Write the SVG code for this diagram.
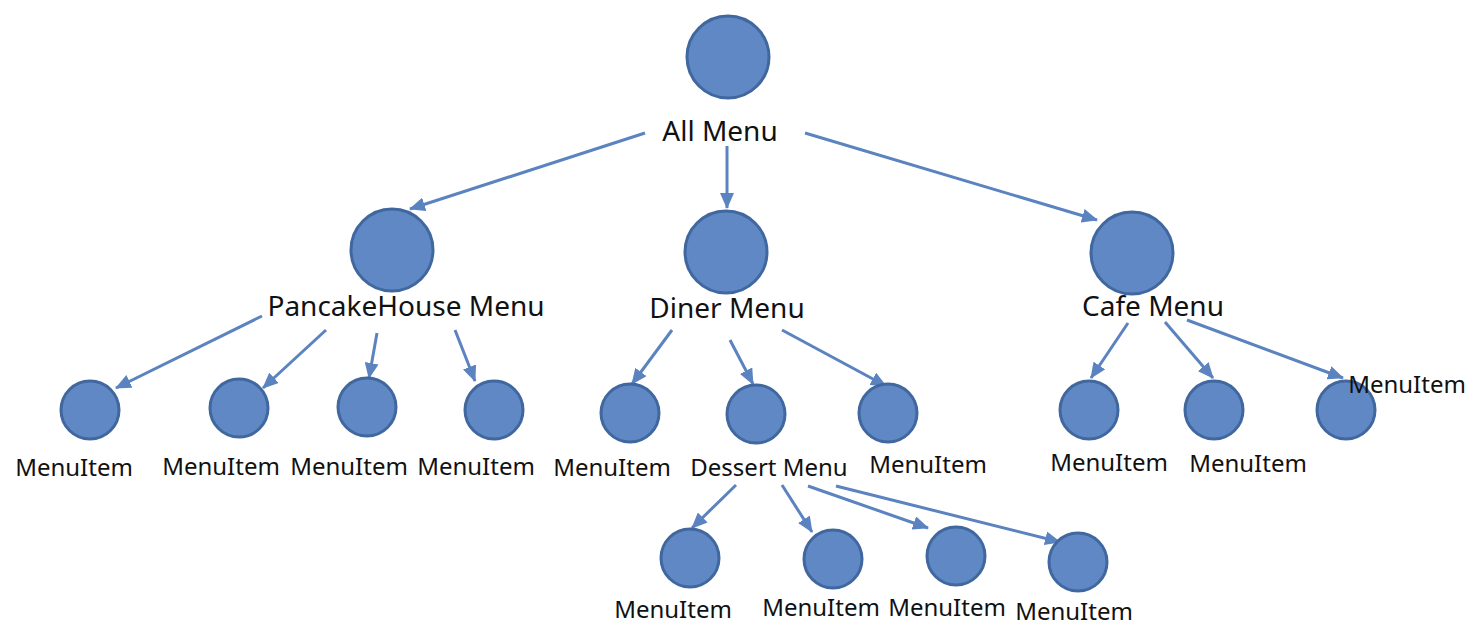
<svg xmlns="http://www.w3.org/2000/svg" width="1482" height="636" viewBox="0 0 1482 636">
<style>
.n{fill:#5f88c4;stroke:#41679f;stroke-width:3}
.big{font-family:"Noto Sans","Liberation Sans",sans-serif;font-size:28px;fill:#111;text-anchor:middle}
.sm{font-family:"Noto Sans","Liberation Sans",sans-serif;font-size:24px;fill:#111;text-anchor:middle}
.e{stroke:#5b83c0;stroke-width:3;fill:none;marker-end:url(#ah)}
</style>
<defs>
<marker id="ah" viewBox="0 0 16 14" refX="15" refY="7" markerWidth="16" markerHeight="14" markerUnits="userSpaceOnUse" orient="auto">
<path d="M0,0 L16,7 L0,14 Z" fill="#5b83c0"/>
</marker>
</defs>
<rect width="1482" height="636" fill="#fff"/>
<g id="connectors">
<line class="e" x1="645" y1="133" x2="410" y2="209"/>
<line class="e" x1="727" y1="146" x2="727" y2="208"/>
<line class="e" x1="805" y1="133" x2="1097" y2="220"/>
<line class="e" x1="262" y1="316" x2="116" y2="388"/>
<line class="e" x1="326" y1="330" x2="263" y2="388"/>
<line class="e" x1="377" y1="333" x2="369" y2="378"/>
<line class="e" x1="455" y1="330" x2="475" y2="381"/>
<line class="e" x1="672" y1="330" x2="632" y2="384"/>
<line class="e" x1="730" y1="340" x2="753" y2="384"/>
<line class="e" x1="782" y1="330" x2="886" y2="386"/>
<line class="e" x1="1128" y1="323" x2="1091" y2="378"/>
<line class="e" x1="1165" y1="322" x2="1213" y2="378"/>
<line class="e" x1="1187" y1="320" x2="1343" y2="378"/>
<line class="e" x1="736" y1="485" x2="692" y2="528"/>
<line class="e" x1="782" y1="485" x2="812" y2="532"/>
<line class="e" x1="808" y1="486" x2="928" y2="528"/>
<line class="e" x1="836" y1="486" x2="1060" y2="542"/>
</g>
<g id="all-menu"><circle class="n" cx="728" cy="57" r="41"/><text class="big" x="720" y="141">All Menu</text></g>
<g id="pancake-menu"><circle class="n" cx="392" cy="250" r="41"/><text class="big" x="406" y="316">PancakeHouse Menu</text></g>
<g id="diner-menu"><circle class="n" cx="726" cy="252" r="41"/><text class="big" x="727" y="318">Diner Menu</text></g>
<g id="cafe-menu"><circle class="n" cx="1132" cy="253" r="41"/><text class="big" x="1153" y="316">Cafe Menu</text></g>
<g id="p1"><circle class="n" cx="90" cy="410" r="29"/><text class="sm" x="74" y="476">MenuItem</text></g>
<g id="p2"><circle class="n" cx="239" cy="408" r="29"/><text class="sm" x="221" y="475">MenuItem</text></g>
<g id="p3"><circle class="n" cx="367" cy="407" r="29"/><text class="sm" x="349" y="475">MenuItem</text></g>
<g id="p4"><circle class="n" cx="494" cy="410" r="29"/><text class="sm" x="476" y="475">MenuItem</text></g>
<g id="d1"><circle class="n" cx="630" cy="413" r="29"/><text class="sm" x="612" y="476">MenuItem</text></g>
<g id="dessert-menu"><circle class="n" cx="756" cy="414" r="29"/><text class="sm" x="769" y="476">Dessert Menu</text></g>
<g id="d3"><circle class="n" cx="888" cy="413" r="29"/><text class="sm" x="928" y="473">MenuItem</text></g>
<g id="c1"><circle class="n" cx="1089" cy="410" r="29"/><text class="sm" x="1109" y="471">MenuItem</text></g>
<g id="c2"><circle class="n" cx="1214" cy="410" r="29"/><text class="sm" x="1248" y="472">MenuItem</text></g>
<g id="c3"><circle class="n" cx="1346" cy="410" r="29"/><text class="sm" x="1407" y="393">MenuItem</text></g>
<g id="s1"><circle class="n" cx="690" cy="558" r="29"/><text class="sm" x="673" y="618">MenuItem</text></g>
<g id="s2"><circle class="n" cx="833" cy="559" r="29"/><text class="sm" x="821" y="616">MenuItem</text></g>
<g id="s3"><circle class="n" cx="956" cy="556" r="29"/><text class="sm" x="947" y="616">MenuItem</text></g>
<g id="s4"><circle class="n" cx="1078" cy="562" r="29"/><text class="sm" x="1074" y="620">MenuItem</text></g>
</svg>
